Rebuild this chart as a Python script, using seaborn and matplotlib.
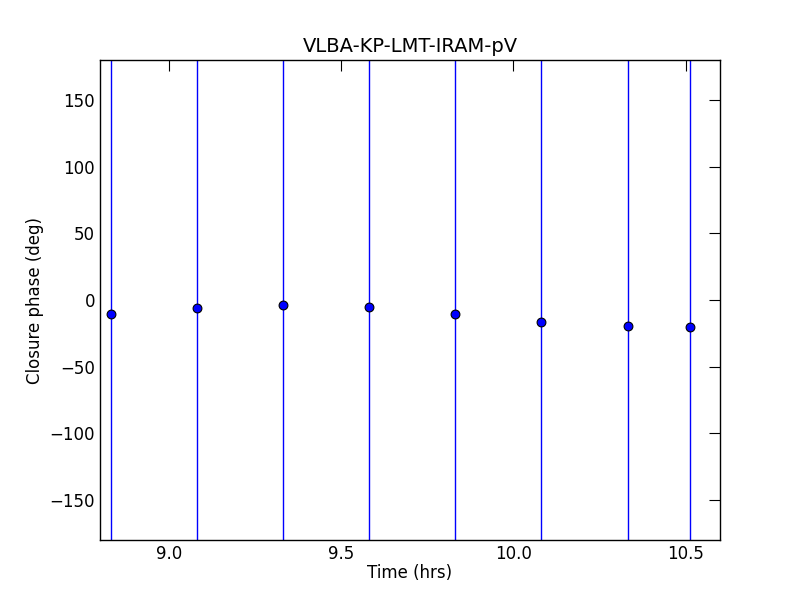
import matplotlib
matplotlib.use("Agg")
import matplotlib.pyplot as plt
import seaborn as sns
import pandas as pd

# closure phase per scan
time_hrs = [8.832, 9.081, 9.330, 9.580, 9.830, 10.080, 10.332, 10.514]
cphase = [-10.5, -6.2, -4.0, -5.3, -10.7, -16.7, -19.7, -20.5]
cphase_err = [400, 400, 400, 400, 400, 400, 400, 400]

df = pd.DataFrame({"time": time_hrs, "cphase": cphase, "err": cphase_err})

sns.set_style("white")
plt.rcParams.update({
    "font.family": ["DejaVu Sans"],
    "text.color": "black",
    "axes.labelcolor": "black",
    "xtick.color": "black",
    "ytick.color": "black",
    "xtick.direction": "in",
    "ytick.direction": "in",
    "xtick.top": True,
    "ytick.right": True,
    "xtick.major.size": 8,
    "ytick.major.size": 8,
    "xtick.labelsize": 12,
    "ytick.labelsize": 12,
    "axes.labelsize": 12,
    "axes.edgecolor": "black",
    "axes.linewidth": 1.0,
})

fig = plt.figure(figsize=(8, 6), dpi=100)
ax = fig.add_axes([0.125, 0.1, 0.775, 0.8])

ax.errorbar(df.time, df.cphase, yerr=df.err, fmt="none", ecolor="blue", elinewidth=1.0, zorder=2)
sns.scatterplot(data=df, x="time", y="cphase", ax=ax, color="blue", edgecolor="black",
                linewidth=0.8, s=40, zorder=3, legend=False)

ax.set_xlim(8.8, 10.6)
ax.set_ylim(-180, 180)
ax.set_xticks([9.0, 9.5, 10.0, 10.5])
ax.set_yticks([-150, -100, -50, 0, 50, 100, 150])
ax.set_xlabel("Time (hrs)", labelpad=0.5)
ax.set_ylabel("Closure phase (deg)")
ax.set_title("VLBA-KP-LMT-IRAM-pV", fontsize=14, color="black")

fig.savefig("out.png", dpi=100)
